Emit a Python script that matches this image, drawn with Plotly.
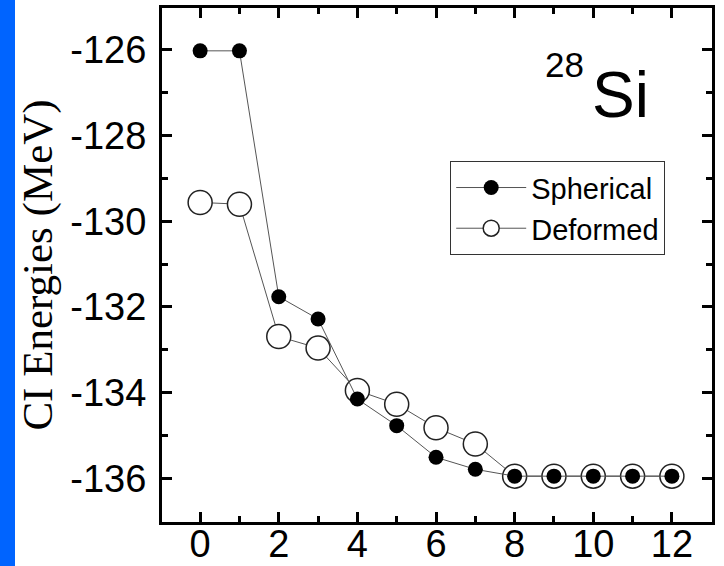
import plotly.graph_objects as go

x_vals = [0, 1, 2, 3, 4, 5, 6, 7, 8, 9, 10, 11, 12]
spherical = [-126.02, -126.02, -131.76, -132.28, -134.15, -134.77, -135.51,
             -135.79, -135.95, -135.95, -135.95, -135.95, -135.95]
deformed = [-129.56, -129.60, -132.69, -132.96, -133.95, -134.27, -134.82,
            -135.20, -135.95, -135.95, -135.95, -135.95, -135.95]
x_ticks = [0, 2, 4, 6, 8, 10, 12]
y_ticks = [-136, -134, -132, -130, -128, -126]

fig = go.Figure()

fig.add_trace(go.Scatter(
    x=x_vals, y=deformed, name="Deformed", mode="lines+markers",
    line=dict(color="#555555", width=1),
    marker=dict(symbol="circle", size=24, color="white",
                line=dict(color="#222222", width=1.5)),
    legendrank=2,
))
fig.add_trace(go.Scatter(
    x=x_vals, y=spherical, name="Spherical", mode="lines+markers",
    line=dict(color="#555555", width=1),
    marker=dict(symbol="circle", size=15, color="black",
                line=dict(color="black", width=0)),
    legendrank=1,
))

axis_common = dict(
    showline=True, linecolor="black", linewidth=3, mirror="allticks",
    ticks="inside", ticklen=10, tickwidth=3, tickcolor="black",
    showgrid=False, zeroline=False, automargin=False,
    tickfont=dict(family="Liberation Sans, Arial", size=38, color="black"),
)

fig.update_xaxes(
    range=[-0.97, 13.02], tickvals=x_ticks,
    minor=dict(dtick=1, tick0=0, ticks="inside", ticklen=6, tickwidth=3,
               tickcolor="black", showgrid=False),
    ticklabelstandoff=-14,
    **axis_common,
)
fig.update_yaxes(
    range=[-137.02, -125.02], tickvals=y_ticks,
    ticktext=[str(v) for v in y_ticks],
    minor=dict(dtick=1, tick0=-137, ticks="inside", ticklen=6, tickwidth=3,
               tickcolor="black", showgrid=False),
    ticklabelstandoff=5,
    title=dict(text="CI Energies (MeV)",
               font=dict(family="Liberation Serif, Times New Roman", size=43,
                         color="black"),
               standoff=5),
    **axis_common,
)

fig.add_annotation(text="Si", xref="paper", yref="paper", x=0.778, y=0.831,
                   xanchor="left", yanchor="middle", showarrow=False,
                   font=dict(family="Liberation Sans, Arial", size=64, color="black"))
fig.add_annotation(text="28", xref="paper", yref="paper", x=0.693, y=0.89,
                   xanchor="left", yanchor="middle", showarrow=False,
                   font=dict(family="Liberation Sans, Arial", size=35, color="black"))

# blue strip on the left edge
fig.add_shape(type="rect", xref="paper", yref="paper",
              x0=-162/550, x1=-147/550, y0=-50/514, y1=530/514,
              fillcolor="#0064FF", line=dict(width=0), layer="below")

fig.update_layout(
    width=724, height=566,
    margin=dict(l=162, r=12, t=8, b=44, autoexpand=False),
    paper_bgcolor="white", plot_bgcolor="white",
    showlegend=True,
    legend=dict(
        x=0.524, y=0.702, xanchor="left", yanchor="top",
        bordercolor="#333333", borderwidth=1, bgcolor="white",
        font=dict(family="Liberation Sans, Arial", size=29, color="black"),
        itemwidth=70, tracegroupgap=0,
    ),
)

fig.write_html("out.html")
